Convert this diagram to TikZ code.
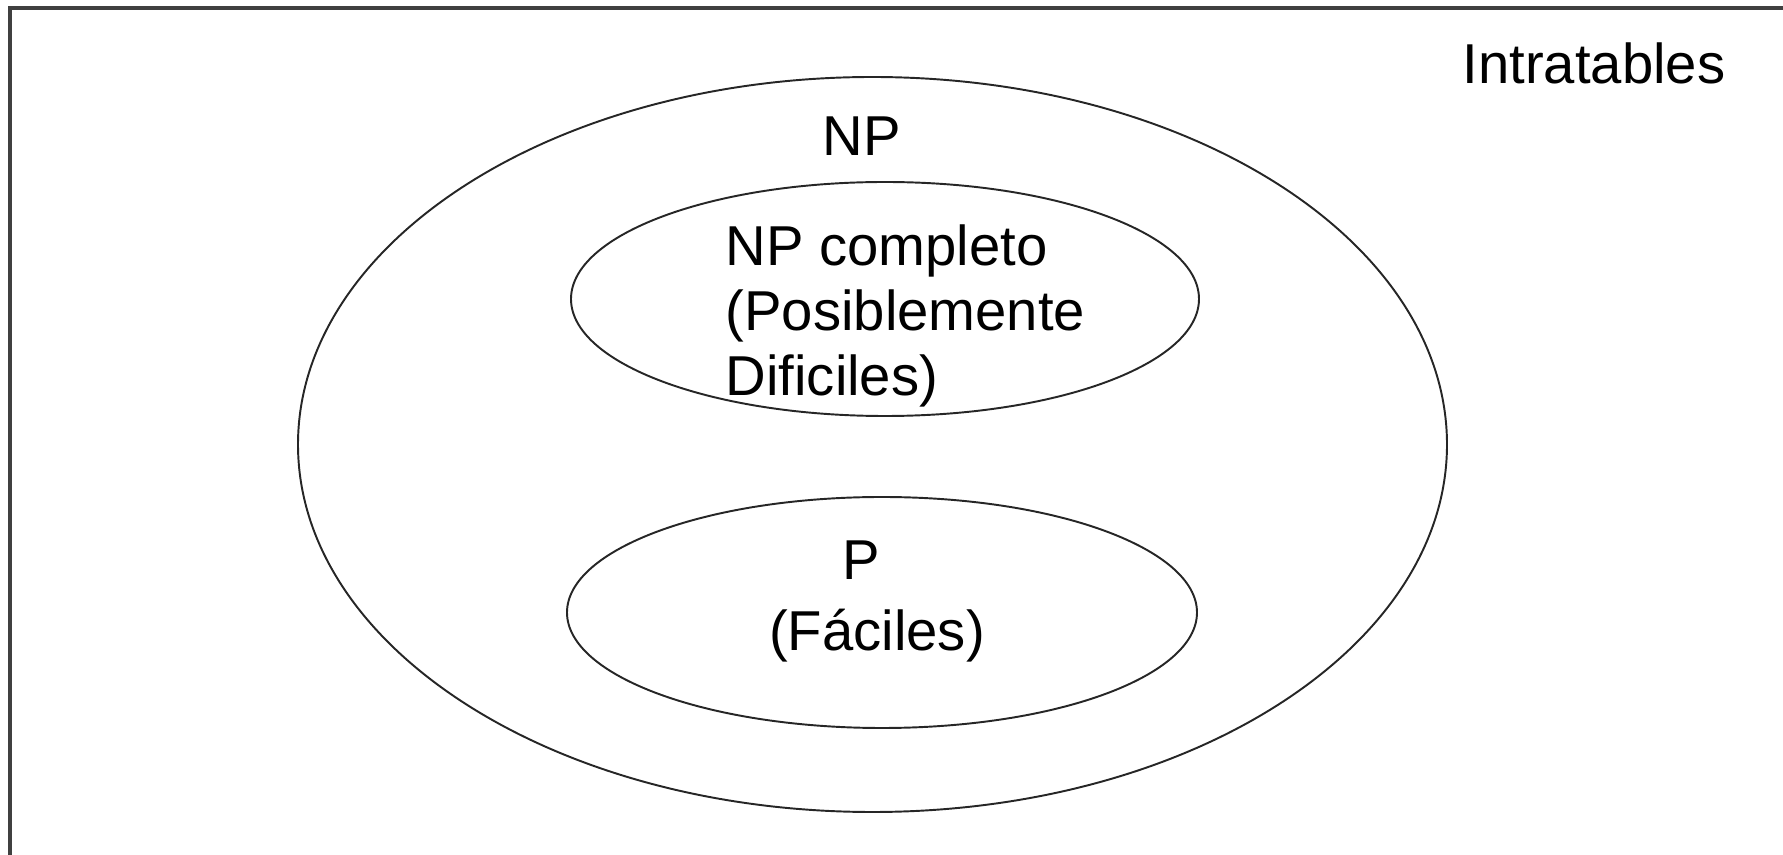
\documentclass[tikz,border=0pt]{standalone}
\usepackage{fontspec}
\setmainfont{Liberation Sans}

\begin{document}
\begin{tikzpicture}[scale=1,
    settext/.style={font=\fontsize{16}{18.5}\selectfont, inner sep=0pt},
    setline/.style={line width=0.55pt, black!85}]
        \useasboundingbox (0,0) rectangle (17.83,-8.55);
        % Frame (only top and left edges show)
        \draw[line width=1pt, black!75] (0.10,-8.55) -- (0.10,-0.08) -- (17.83,-0.08);
        \node[settext] (intratables) at (15.94,-0.63) {Intratables};

        % NP set
        \coordinate (np) at (8.725,-4.445);
        \draw[setline] (np) ellipse [x radius=5.745, y radius=3.675];
        \node[settext] (nplabel) at (8.62,-1.36) {NP};

        % NP completo
        \coordinate (npc) at (8.85,-2.99);
        \draw[setline] (npc) ellipse [x radius=3.14, y radius=1.17];
        \node[settext, align=left, anchor=west] (npclabel) at (7.25,-3.16)
            {NP completo\\(Posiblemente\\Dificiles)};

        % P
        \coordinate (p) at (8.82,-6.125);
        \draw[setline] (p) ellipse [x radius=3.15, y radius=1.155];
        \node[settext] (plabel) at (8.61,-5.60) {P};
        \node[settext] (pfaciles) at (8.77,-6.36) {(Fáciles)};
\end{tikzpicture}
\end{document}
